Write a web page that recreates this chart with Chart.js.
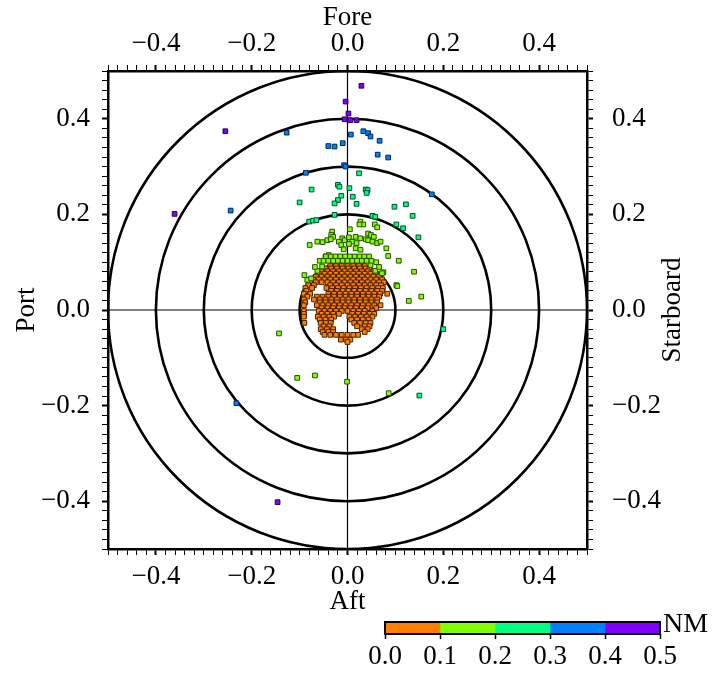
<!DOCTYPE html>
<html>
<head>
<meta charset="utf-8">
<script src="https://cdn.jsdelivr.net/npm/chart.js@4.4.0/dist/chart.umd.min.js"></script>
<style>
  body { margin: 0; background: #fff; }
  #wrap { position: relative; width: 721px; height: 675px; }
  #main { position: absolute; left: 0; top: 0; }
  #bar { position: absolute; left: 340px; top: 610px; }
</style>
</head>
<body>
<div id="wrap">
  <canvas id="main" width="721" height="675"></canvas>
  <canvas id="bar" width="381" height="65"></canvas>
</div>
<script>
// distance bins (NM) and their colours
const binEdges = [0, 0.1, 0.2, 0.3, 0.4, 0.5];
const binColors = ["#ff8000", "#80ff00", "#00ff80", "#0080ff", "#8000ff"];
const binBorders = ["#4a2000", "#2a5000", "#00502a", "#002a50", "#2a0050"];
const ringRadii = [0.1, 0.2, 0.3, 0.4, 0.5];
const axisLabels = [-0.4, -0.2, 0.0, 0.2, 0.4];

// 0.0 - 0.1 NM, typed row by row: [y, [x...]]
const orangeRows = [
  [0.092, [-0.036, -0.024, -0.012, 0, 0.012, 0.024, 0.036]],
  [0.087, [-0.046, -0.034, -0.022, -0.010, 0.002, 0.014, 0.026, 0.038, 0.046]],
  [0.081, [-0.054, -0.042, -0.030, -0.018, -0.006, 0.006, 0.018, 0.030, 0.042, 0.054]],
  [0.076, [-0.060, -0.048, -0.036, -0.024, -0.012, 0, 0.012, 0.024, 0.036, 0.048, 0.060]],
  [0.070, [-0.066, -0.054, -0.042, -0.030, -0.018, -0.006, 0.006, 0.018, 0.030, 0.042, 0.054, 0.066]],
  [0.064, [-0.072, -0.060, -0.048, -0.036, -0.024, -0.012, 0, 0.012, 0.024, 0.036, 0.048, 0.060, 0.072]],
  [0.058, [-0.078, -0.066, -0.054, -0.042, -0.030, -0.018, -0.006, 0.006, 0.018, 0.030, 0.042, 0.054, 0.066, 0.076]],
  [0.052, [-0.082, -0.070, -0.036, -0.024, -0.012, 0, 0.012, 0.024, 0.036, 0.048, 0.060, 0.070]],
  [0.046, [-0.088, -0.074, -0.044, -0.032, -0.020, -0.008, 0.004, 0.016, 0.028, 0.040, 0.052, 0.064, 0.074]],
  [0.040, [-0.086, -0.034, -0.022, -0.010, 0.002, 0.014, 0.026, 0.038, 0.050, 0.062, 0.072]],
  [0.034, [-0.091, -0.078, -0.040, -0.028, -0.016, -0.004, 0.008, 0.020, 0.032, 0.044, 0.056, 0.068, 0.083]],
  [0.028, [-0.084, -0.064, -0.052, -0.040, -0.028, -0.016, -0.004, 0.008, 0.020, 0.032, 0.044, 0.056, 0.066]],
  [0.022, [-0.091, -0.070, -0.058, -0.046, -0.034, -0.022, -0.010, 0.002, 0.014, 0.026, 0.038, 0.050, 0.062]],
  [0.016, [-0.088, -0.058, -0.046, -0.034, -0.022, -0.010, 0.002, 0.014, 0.026, 0.038, 0.050, 0.062]],
  [0.010, [-0.091, -0.064, -0.052, -0.040, -0.028, -0.016, -0.004, 0.008, 0.020, 0.032, 0.044, 0.056, 0.069]],
  [0.004, [-0.054, -0.042, -0.030, -0.018, -0.006, 0.006, 0.018, 0.030, 0.042, 0.060]],
  [-0.002, [-0.091, -0.060, -0.048, -0.036, -0.024, -0.012, 0.000, 0.012, 0.024, 0.036, 0.052]],
  [-0.008, [-0.091, -0.054, -0.042, -0.030, -0.018, 0.010, 0.022, 0.034, 0.046, 0.056]],
  [-0.014, [-0.091, -0.062, -0.050, -0.038, -0.028, 0.004, 0.016, 0.028, 0.040, 0.052]],
  [-0.020, [-0.058, -0.046, -0.034, 0.008, 0.020, 0.032, 0.044]],
  [-0.027, [-0.090, -0.056, -0.045, -0.035, 0.014, 0.026, 0.038, 0.048]],
  [-0.034, [-0.050, -0.038, 0.020, 0.036, 0.046]],
  [-0.040, [-0.056, -0.043, -0.030, 0.030, 0.042]],
  [-0.046, [-0.052, -0.040, -0.030, 0.036]],
  [-0.052, [-0.048, -0.036, -0.024, -0.012, 0.000, 0.012, 0.022]],
  [-0.062, [-0.014, -0.003, 0.006]],
  [-0.067, [0.000]],
];

// 0.1 - 0.2 NM
const limePts = [
  [-0.105, -0.142], [-0.068, -0.137], [-0.001, -0.150], [0.086, -0.174], [-0.143, -0.049],
  [0.139, 0.080], [0.154, 0.028], [0.128, 0.019], [0.085, 0.113], [0.107, 0.103],
  [0.075, 0.079], [0.102, 0.052], [0.081, 0.129], [0.104, 0.050],
  [-0.090, 0.073], [-0.084, 0.063], [-0.076, 0.066], [-0.063, 0.082], [-0.053, 0.091],
  [-0.046, 0.112], [-0.039, 0.115], [0.048, 0.094], [0.058, 0.082], [0.072, 0.077],
  [-0.032, 0.164], [-0.034, 0.157], [-0.030, 0.153], [0.027, 0.185], [0.033, 0.179],
  [0.025, 0.179], [0.005, 0.169], [0.057, 0.179], [0.062, 0.173], [0.043, 0.160],
  [0.049, 0.157], [0.055, 0.153], [-0.011, 0.150], [-0.006, 0.146], [0.003, 0.152],
  [0.017, 0.153], [0.027, 0.150], [0.038, 0.148], [0.010, 0.143], [0.019, 0.140],
  [0.003, 0.138], [-0.018, 0.143], [-0.013, 0.136], [-0.063, 0.143], [-0.052, 0.142],
  [-0.042, 0.146], [-0.035, 0.148], [-0.079, 0.136], [0.043, 0.146], [0.052, 0.143],
  [0.062, 0.140], [0.069, 0.143], [0.017, 0.129], [0.027, 0.126], [-0.008, 0.127],
  [-0.045, 0.112], [-0.035, 0.112], [-0.025, 0.112], [-0.015, 0.112], [-0.005, 0.112],
  [0.005, 0.112], [0.015, 0.112], [0.025, 0.112], [0.035, 0.112], [0.045, 0.112],
  [-0.058, 0.103], [-0.050, 0.103], [-0.040, 0.103], [-0.030, 0.103], [-0.020, 0.103],
  [-0.010, 0.103], [0.000, 0.103], [0.010, 0.103], [0.020, 0.103], [0.030, 0.103],
  [0.040, 0.103], [0.050, 0.103], [0.060, 0.100], [-0.068, 0.090], [0.066, 0.090],
];

// 0.2 - 0.3 NM
const greenPts = [
  [0.024, 0.286], [-0.075, 0.252], [-0.020, 0.262], [-0.017, 0.258], [0.004, 0.255],
  [0.038, 0.252], [0.042, 0.251], [0.040, 0.245], [-0.013, 0.239], [0.011, 0.237],
  [-0.020, 0.230], [-0.027, 0.223], [-0.100, 0.225], [0.019, 0.222], [0.098, 0.216],
  [0.122, 0.221], [0.136, 0.197], [-0.027, 0.199], [-0.080, 0.185], [-0.072, 0.187],
  [-0.065, 0.188], [0.052, 0.197], [0.058, 0.195], [0.102, 0.179], [0.116, 0.171],
  [0.148, 0.152], [0.200, -0.040], [0.150, -0.179],
];

// 0.3 - 0.4 NM
const bluePts = [
  [-0.127, 0.371], [0.007, 0.367], [0.033, 0.374], [0.043, 0.370], [0.048, 0.363],
  [0.067, 0.354], [-0.010, 0.349], [-0.040, 0.343], [-0.027, 0.342], [0.063, 0.325],
  [0.085, 0.319], [-0.007, 0.303], [-0.004, 0.300], [-0.087, 0.287], [0.176, 0.242],
  [-0.244, 0.208], [-0.232, -0.195],
];

// 0.4 - 0.5 NM
const purplePts = [
  [0.029, 0.469], [-0.004, 0.436], [0.002, 0.411], [-0.006, 0.399], [0.006, 0.397],
  [0.019, 0.397], [-0.255, 0.374], [-0.361, 0.201], [-0.146, -0.402],
];

const orangePts = [];
for (const [y, xs] of orangeRows) {
  for (const x of xs) orangePts.push([x, y]);
}
const bins = [orangePts, limePts, greenPts, bluePts, purplePts];

const FONT = "'Liberation Serif', 'DejaVu Serif', serif";

const fmt = (v) => (v < 0 ? "\u2212" + Math.abs(v).toFixed(1) : Math.abs(v).toFixed(1));
const isLabel = (v) => axisLabels.some((t) => Math.abs(t - v) < 1e-6);

const makeAxis = (position, title, titlePad, tickPad, size) => ({
  type: "linear",
  position: position,
  min: -0.5,
  max: 0.5,
  afterFit: (s) => {
    if (position === "top" || position === "bottom") s.height = size;
    else s.width = size;
  },
  border: { display: true, color: "#000", width: 2.5 },
  grid: {
    drawOnChartArea: false,
    drawTicks: true,
    tickLength: 6,
    tickColor: "#000",
    tickWidth: (c) => (c.tick && isLabel(c.tick.value) ? 2 : 1),
  },
  ticks: {
    stepSize: 0.02,
    autoSkip: false,
    maxRotation: 0,
    padding: tickPad,
    color: "#000",
    font: { family: FONT, size: 27 },
    callback: (v) => {
      const hit = axisLabels.find((t) => Math.abs(t - v) < 1e-6);
      return hit === undefined ? "" : fmt(hit);
    },
  },
  title: {
    display: title !== "",
    text: title,
    color: "#000",
    padding: titlePad,
    font: { family: FONT, size: 27 },
  },
});

// rings, cross lines and the right-hand title
const ringsPlugin = {
  id: "rings",
  beforeDatasetsDraw(chart) {
    const { ctx, chartArea: a, scales } = chart;
    const x0 = scales.x.getPixelForValue(0);
    const y0 = scales.y.getPixelForValue(0);
    ctx.save();
    ctx.beginPath();
    ctx.rect(a.left, a.top, a.right - a.left, a.bottom - a.top);
    ctx.clip();
    ctx.strokeStyle = "#000";
    ctx.lineWidth = 1.2;
    ctx.beginPath();
    ctx.moveTo(x0, a.top);
    ctx.lineTo(x0, a.bottom);
    ctx.moveTo(a.left, y0);
    ctx.lineTo(a.right, y0);
    ctx.stroke();
    ctx.lineWidth = 2.6;
    for (const r of ringRadii) {
      const rx = scales.x.getPixelForValue(r) - x0;
      const ry = y0 - scales.y.getPixelForValue(r);
      ctx.beginPath();
      ctx.ellipse(x0, y0, rx, ry, 0, 0, Math.PI * 2);
      ctx.stroke();
    }
    ctx.restore();
  },
  afterDraw(chart) {
    const { ctx, chartArea: a } = chart;
    ctx.save();
    ctx.translate(673, (a.top + a.bottom) / 2);
    ctx.rotate(-Math.PI / 2);
    ctx.fillStyle = "#000";
    ctx.font = "27px " + FONT;
    ctx.textAlign = "center";
    ctx.textBaseline = "middle";
    ctx.fillText("Starboard", 0, 0);
    ctx.restore();
  },
};

new Chart(document.getElementById("main"), {
  type: "scatter",
  data: {
    datasets: bins.map((pts, i) => ({
      label: binEdges[i] + "-" + binEdges[i + 1],
      data: pts.map(([x, y]) => ({ x: x, y: y })),
      pointStyle: "rect",
      pointRadius: 3.3,
      pointBackgroundColor: binColors[i],
      pointBorderColor: binBorders[i],
      pointBorderWidth: 1,
    })).reverse(),
  },
  options: {
    responsive: false,
    animation: false,
    layout: { padding: { left: 0, right: 0, top: 0, bottom: 57 } },
    plugins: { legend: { display: false }, tooltip: { enabled: false } },
    scales: {
      x: makeAxis("bottom", "Aft", { top: 0, bottom: 0 }, 6, 69),
      x2: makeAxis("top", "Fore", { top: 2, bottom: 0 }, 5, 71),
      y: makeAxis("left", "Port", { top: 11, bottom: 0 }, 12, 108),
      y2: makeAxis("right", "", { top: 0, bottom: 0 }, 19, 134),
    },
  },
  plugins: [ringsPlugin],
});

// colour bar
const barFrame = {
  id: "barFrame",
  afterDraw(chart) {
    const { ctx, chartArea: a } = chart;
    ctx.save();
    ctx.strokeStyle = "#000";
    ctx.lineWidth = 2;
    ctx.strokeRect(a.left, a.top, a.right - a.left, a.bottom - a.top);
    ctx.fillStyle = "#000";
    ctx.font = "28px " + FONT;
    ctx.textAlign = "left";
    ctx.textBaseline = "middle";
    ctx.fillText("NM", a.right + 3, a.top + 3);
    ctx.restore();
  },
};

new Chart(document.getElementById("bar"), {
  type: "bar",
  data: {
    labels: ["NM"],
    datasets: binColors.map((c, i) => ({
      data: [[binEdges[i], binEdges[i + 1]]],
      backgroundColor: c,
      borderWidth: 0,
      barPercentage: 1,
      categoryPercentage: 1,
    })),
  },
  options: {
    indexAxis: "y",
    responsive: false,
    animation: false,
    layout: { padding: { left: 45, right: 61, top: 12, bottom: 0 } },
    plugins: { legend: { display: false }, tooltip: { enabled: false } },
    scales: {
      y: { display: false, stacked: true },
      x: {
        min: 0,
        max: 0.5,
        afterFit: (s) => { s.height = 41; },
        border: { display: false },
        grid: { drawOnChartArea: false, tickLength: 5, tickColor: "#000", tickWidth: 1.5 },
        ticks: {
          stepSize: 0.1,
          padding: 2,
          color: "#000",
          font: { family: FONT, size: 27 },
          callback: (v) => Number(v).toFixed(1),
        },
      },
    },
  },
  plugins: [barFrame],
});
</script>
</body>
</html>
